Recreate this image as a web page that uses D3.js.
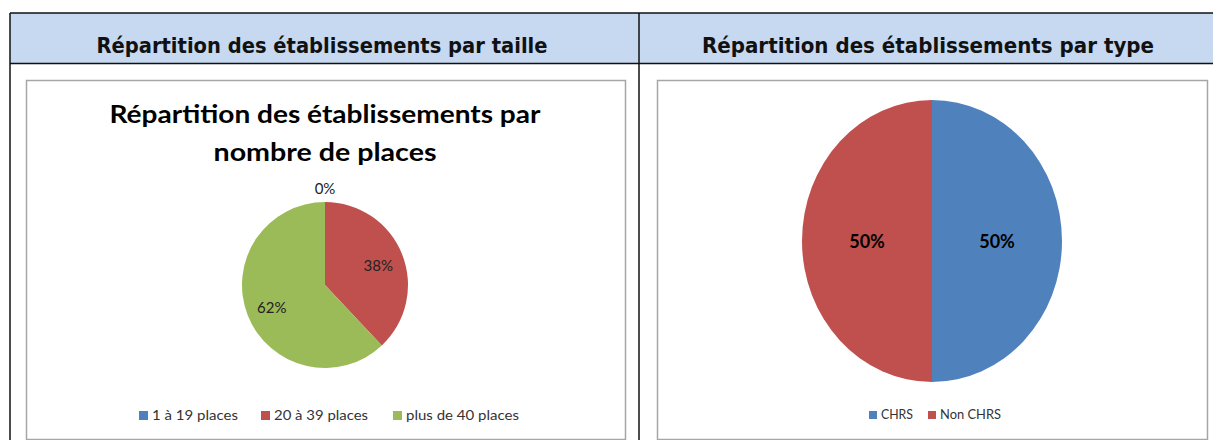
<!DOCTYPE html>
<html>
<head>
<meta charset="utf-8">
<script src="https://cdn.jsdelivr.net/npm/d3@7"></script>
<style>
  html, body { margin: 0; padding: 0; background: #fff; }
  svg { display: block; }
</style>
</head>
<body>
<svg id="chart" width="1213" height="440"></svg>
<script>
(function () {
    'use strict';

    // data
    var headerTitles = ["Répartition des établissements par taille", "Répartition des établissements par type"];
    var tailleTitle = ["Répartition des établissements par", "nombre de places"];
    var tailleCategories = ["1 à 19 places", "20 à 39 places", "plus de 40 places"];
    var tailleValues = [0, 38, 62];
    var typeCategories = ["CHRS", "Non CHRS"];
    var typeValues = [50, 50];
    var colors = ["#4f81bd", "#c0504d", "#9bbb59"];

    var svg = d3.select("#chart");
    var W = 1213, H = 440;
    var headFont = "'DejaVu Sans', sans-serif";
    var chartFont = "Lato, 'Open Sans', sans-serif";

    // table frame
    svg.append("rect").attr("x", 10).attr("y", 13).attr("width", W - 10).attr("height", 50)
        .attr("fill", "#c6d9f1");
    var frame = svg.append("g").attr("stroke", "#111").attr("stroke-width", 1.5);
    frame.append("line").attr("x1", 10).attr("x2", W).attr("y1", 13).attr("y2", 13);
    frame.append("line").attr("x1", 10).attr("x2", W).attr("y1", 63.5).attr("y2", 63.5);
    frame.append("line").attr("x1", 10).attr("x2", 10).attr("y1", 13).attr("y2", H);
    frame.append("line").attr("x1", 639).attr("x2", 639).attr("y1", 13).attr("y2", H);

    var headX = [322, 928];
    var headW = [451, 452];
    svg.selectAll(".head").data(headerTitles).enter().append("text")
        .attr("class", "head")
        .attr("x", function (d, i) { return headX[i]; })
        .attr("y", 53)
        .attr("text-anchor", "middle")
        .attr("font-family", headFont)
        .attr("font-weight", "bold")
        .attr("font-size", 21)
        .attr("fill", "#111")
        .attr("textLength", function (d, i) { return headW[i]; })
        .attr("lengthAdjust", "spacingAndGlyphs")
        .text(function (d) { return d; });

    // chart boxes
    var boxes = [{ x: 26, y: 80, w: 599, h: 359 }, { x: 657, y: 80, w: 550, h: 359 }];
    svg.selectAll(".box").data(boxes).enter().append("rect")
        .attr("class", "box")
        .attr("x", function (d) { return d.x + 0.5; })
        .attr("y", function (d) { return d.y + 0.5; })
        .attr("width", function (d) { return d.w; })
        .attr("height", function (d) { return d.h; })
        .attr("fill", "#fff")
        .attr("stroke", "#a6a6a6")
        .attr("stroke-width", 1.5);

    var pie = d3.pie().sort(null).value(function (d) { return d; });

    // left pie: par taille
    svg.selectAll(".ttl").data(tailleTitle).enter().append("text")
        .attr("x", 325)
        .attr("y", function (d, i) { return 123 + i * 38; })
        .attr("text-anchor", "middle")
        .attr("font-family", chartFont)
        .attr("font-weight", "bold")
        .attr("font-size", 25)
        .attr("fill", "#000")
        .attr("textLength", function (d, i) { return i === 0 ? 431 : 223; })
        .attr("lengthAdjust", "spacingAndGlyphs")
        .text(function (d) { return d; });

    var r1 = 83;
    var g1 = svg.append("g").attr("transform", "translate(325,285)");
    var arc1 = d3.arc().innerRadius(0).outerRadius(r1);
    var lab1 = d3.arc().innerRadius(r1 * 0.69).outerRadius(r1 * 0.69);
    var out1 = d3.arc().innerRadius(r1 + 15).outerRadius(r1 + 15);
    var arcs1 = pie(tailleValues);
    g1.selectAll("path").data(arcs1).enter().append("path")
        .attr("d", arc1)
        .attr("fill", function (d, i) { return colors[i]; });
    g1.selectAll("text").data(arcs1).enter().append("text")
        .attr("transform", function (d) {
            var c = d.value === 0 ? out1.centroid(d) : lab1.centroid(d);
            return "translate(" + c[0] + "," + (c[1] + 2) + ")";
        })
        .attr("dy", "0.35em")
        .attr("text-anchor", "middle")
        .attr("font-family", chartFont)
        .attr("font-size", 15)
        .attr("fill", "#222")
        .text(function (d) { return d.value + "%"; });

    var leg1X = [139, 261, 393];
    var leg1W = [86, 94, 113];
    var leg1 = svg.selectAll(".leg1").data(tailleCategories).enter().append("g")
        .attr("transform", function (d, i) { return "translate(" + leg1X[i] + ",411)"; });
    leg1.append("rect").attr("width", 9).attr("height", 9)
        .attr("fill", function (d, i) { return colors[i]; });
    leg1.append("text").attr("x", 13).attr("y", 9)
        .attr("font-family", chartFont).attr("font-size", 14).attr("fill", "#333")
        .attr("textLength", function (d, i) { return leg1W[i]; })
        .attr("lengthAdjust", "spacingAndGlyphs")
        .text(function (d) { return d; });

    // right pie: par type (slightly elliptical, as in the original)
    var rx2 = 130, ry2 = 141;
    var g2 = svg.append("g").attr("transform", "translate(932,241)");
    var arc2 = d3.arc().innerRadius(0).outerRadius(rx2);
    var lab2 = d3.arc().innerRadius(rx2 * 0.5).outerRadius(rx2 * 0.5);
    var arcs2 = pie(typeValues);
    g2.append("g").attr("transform", "scale(1," + (ry2 / rx2) + ")")
        .selectAll("path").data(arcs2).enter().append("path")
        .attr("d", arc2)
        .attr("fill", function (d, i) { return colors[i]; });
    g2.selectAll("text").data(arcs2).enter().append("text")
        .attr("transform", function (d) {
            var c = lab2.centroid(d);
            return "translate(" + c[0] + "," + (c[1] * ry2 / rx2 + 1) + ")";
        })
        .attr("dy", "0.35em")
        .attr("text-anchor", "middle")
        .attr("font-family", chartFont)
        .attr("font-weight", "bold")
        .attr("font-size", 18)
        .attr("fill", "#000")
        .text(function (d) { return d.value + "%"; });

    var leg2X = [869, 928];
    var leg2W = [32, 61];
    var leg2 = svg.selectAll(".leg2").data(typeCategories).enter().append("g")
        .attr("transform", function (d, i) { return "translate(" + leg2X[i] + ",411)"; });
    leg2.append("rect").attr("width", 8).attr("height", 8)
        .attr("fill", function (d, i) { return colors[i]; });
    leg2.append("text").attr("x", 12).attr("y", 8)
        .attr("font-family", chartFont).attr("font-size", 13).attr("fill", "#333")
        .attr("textLength", function (d, i) { return leg2W[i]; })
        .attr("lengthAdjust", "spacingAndGlyphs")
        .text(function (d) { return d; });
}());
</script>
</body>
</html>
